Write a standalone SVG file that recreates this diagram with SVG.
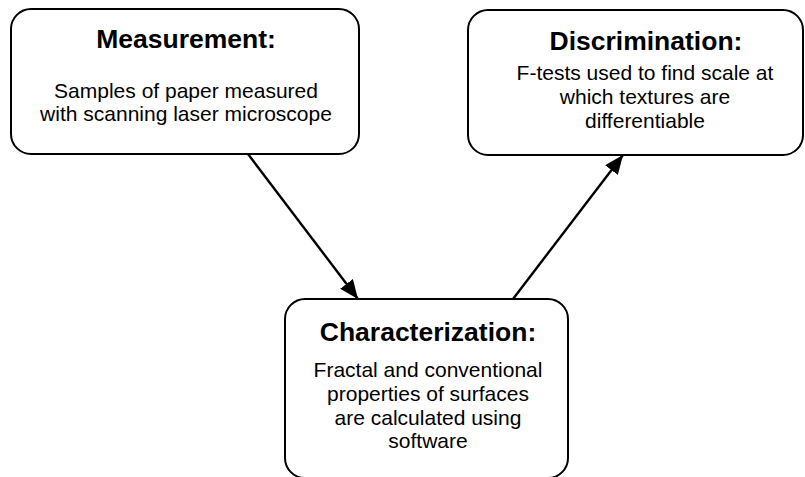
<svg xmlns="http://www.w3.org/2000/svg" width="805" height="477" viewBox="0 0 805 477">
<style>
.box{fill:#fff;stroke:#000;stroke-width:2}
.t{font-family:"Liberation Sans",Arial,sans-serif;font-weight:bold;font-size:26.5px;text-anchor:middle;fill:#000}
.b{font-family:"Liberation Sans",Arial,sans-serif;font-size:21px;text-anchor:middle;fill:#000}
.c{stroke:#000;stroke-width:2.4;fill:none}
</style>
<defs>
<marker id="ah" markerUnits="userSpaceOnUse" markerWidth="20" markerHeight="16" refX="19" refY="8" orient="auto">
<path d="M0,0 L19,8 L0,16 Z" fill="#000"/>
</marker>
</defs>
<rect width="805" height="477" fill="#fff"/>
<g id="measurement">
<rect class="box" x="11" y="9" width="348" height="145" rx="20"/>
<text class="t" x="186" y="48">Measurement:</text>
<text class="b" x="186" y="98">Samples of paper measured</text>
<text class="b" x="186" y="121">with scanning laser microscope</text>
</g>
<g id="discrimination">
<rect class="box" x="468" y="10" width="335" height="145" rx="20"/>
<text class="t" x="646" y="50">Discrimination:</text>
<text class="b" x="645" y="80">F-tests used to find scale at</text>
<text class="b" x="645" y="104">which textures are</text>
<text class="b" x="645" y="128">differentiable</text>
</g>
<g id="characterization">
<rect class="box" x="285" y="299" width="283" height="179" rx="20"/>
<text class="t" x="428" y="341">Characterization:</text>
<text class="b" x="428" y="377">Fractal and conventional</text>
<text class="b" x="428" y="401">properties of surfaces</text>
<text class="b" x="428" y="425">are calculated using</text>
<text class="b" x="428" y="448">software</text>
</g>
<g id="connectors">
<line class="c" x1="248" y1="154" x2="358" y2="299" marker-end="url(#ah)"/>
<line class="c" x1="513" y1="299" x2="623" y2="155" marker-end="url(#ah)"/>
</g>
</svg>
